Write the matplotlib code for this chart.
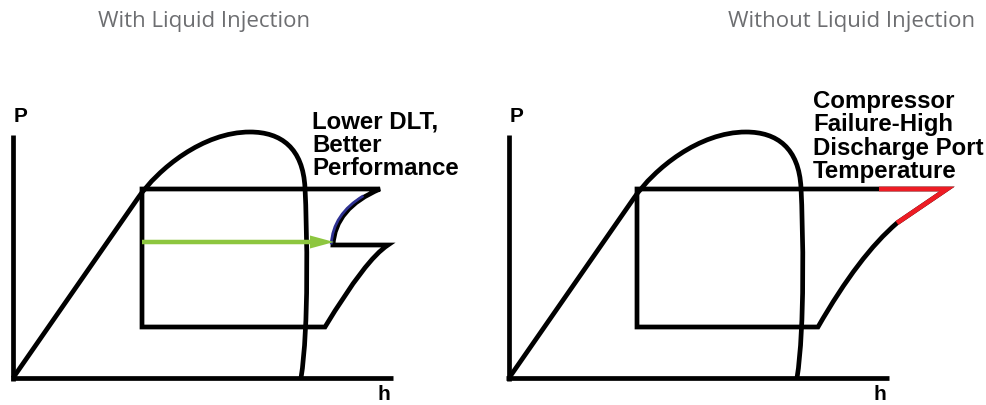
import matplotlib
matplotlib.use("Agg")
import matplotlib.pyplot as plt
from matplotlib.path import Path
from matplotlib.patches import PathPatch

# P-h diagram shapes, units: h and P (pixel-ish scale, origin at axes corner)
# saturation dome: straight liquid line then three cubic pieces
dome_pts = [(0, 0), (125, 180),
            (145, 209), (190, 246), (237, 246),
            (268, 246), (290, 230), (292, 190),
            (294, 150), (296, 50), (288, 0)]
dome_codes = [Path.MOVETO, Path.LINETO] + [Path.CURVE4] * 9

# cycle with liquid injection (left)
inj_pts = [(129, 189), (367, 189),
           (322, 170), (320, 133),
           (375, 133),
           (353, 119), (312, 51),
           (129, 51), (129, 189)]
inj_codes = [Path.MOVETO, Path.LINETO, Path.CURVE3, Path.CURVE3, Path.LINETO,
             Path.CURVE3, Path.CURVE3, Path.LINETO, Path.CLOSEPOLY]
blue_pts = [(318.2, 133.6), (319.8, 163.9), (350.4, 182.2)]
arrow_h = [129, 321]
arrow_P = [136, 136]

# cycle without liquid injection (right)
no_pts = [(128, 189), (438, 189),
          (388, 155),
          (350, 122.6), (309, 51),
          (128, 51), (128, 189)]
no_codes = [Path.MOVETO, Path.LINETO, Path.LINETO, Path.CURVE3, Path.CURVE3,
            Path.LINETO, Path.CLOSEPOLY]
red_h = [370, 438, 388]
red_P = [189, 189, 155]

titles = ["With Liquid Injection", "Without Liquid Injection"]
notes = ["Lower DLT,\nBetter\nPerformance",
         "Compressor\nFailure-High\nDischarge Port\nTemperature"]

BLACK = "#000000"
GREEN = "#8dc63f"
BLUE = "#2e3192"
RED = "#ed1c24"
GRAY = "#6d6e71"
LW = 3.4

fig = plt.figure(figsize=(9.87, 4.05), dpi=100)
axL = fig.add_axes([0, 0, 0.5, 1])
axR = fig.add_axes([0.5, 0, 0.5, 1])
axL.set_xlim(-13, 480.5)
axR.set_xlim(-15.5, 478)
for ax in (axL, axR):
    ax.set_ylim(-27, 378)
    ax.axis("off")


def draw_axes(ax):
    ax.plot([0, 0], [-2.5, 243], color=BLACK, lw=LW, solid_capstyle="butt")
    ax.plot([-2.5, 380], [0, 0], color=BLACK, lw=LW, solid_capstyle="butt")
    ax.add_patch(PathPatch(Path(dome_pts, dome_codes), fill=False, ec=BLACK,
                           lw=LW, capstyle="butt", joinstyle="round"))
    ax.text(8, 261, "P", ha="center", va="center", fontsize=15,
            fontweight="bold", family="Liberation Sans")
    ax.text(371, -16, "h", ha="center", va="center", fontsize=15,
            fontweight="bold", family="Liberation Sans")


# left panel
draw_axes(axL)
axL.add_patch(PathPatch(Path(inj_pts, inj_codes), fill=False, ec=BLACK,
                        lw=LW, joinstyle="miter"))
axL.add_patch(PathPatch(Path(blue_pts, [Path.MOVETO, Path.CURVE3, Path.CURVE3]),
                        fill=False, ec=BLUE, lw=2.0, capstyle="butt"))
axL.arrow(arrow_h[0], arrow_P[0], arrow_h[1] - arrow_h[0], 0, width=4.5,
          head_width=13, head_length=24, length_includes_head=True,
          color=GREEN, lw=0)
axL.text(299, 268, notes[0], ha="left", va="top", fontsize=17.3,
         fontweight="bold", family="Liberation Sans", linespacing=1.03)
axL.text(191, 357, titles[0], ha="center", va="center", fontsize=16,
         color=GRAY, family="Open Sans")

# right panel
draw_axes(axR)
axR.add_patch(PathPatch(Path(no_pts, no_codes), fill=False, ec=BLACK,
                        lw=LW, joinstyle="miter"))
axR.plot(red_h, red_P, color=RED, lw=LW, solid_joinstyle="miter",
         solid_capstyle="butt")
axR.text(304, 288, notes[1], ha="left", va="top", fontsize=17.3,
         fontweight="bold", family="Liberation Sans", linespacing=1.02)
axR.text(343, 357, titles[1], ha="center", va="center", fontsize=16,
         color=GRAY, family="Open Sans")

fig.savefig("out.png", dpi=100)
